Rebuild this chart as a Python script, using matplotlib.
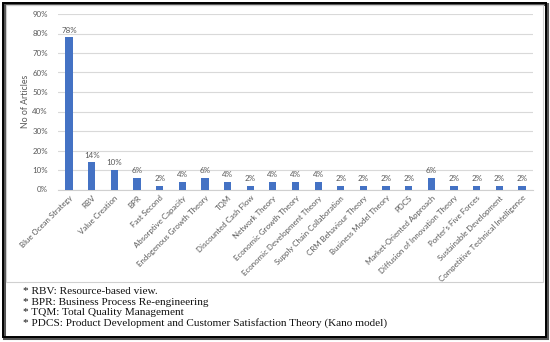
"""Share of articles per theory, bar chart with footnotes."""

import matplotlib

matplotlib.use("Agg")
import matplotlib.pyplot as plt
from matplotlib.patches import Rectangle
from matplotlib.ticker import PercentFormatter

DPI = 100

theories = [
    "Blue Ocean Strategy", "RBV", "Value Creation", "BPR", "Fast Second",
    "Absorptive Capacity", "Endogenous Growth Theory", "TQM",
    "Discounted Cash Flow", "Network Theory", "Economic Growth Theory",
    "Economic Development Theory", "Supply Chain Collaboration",
    "CRM Behaviour Theory", "Business Model Theory", "PDCS",
    "Market-Oriented Approach", "Diffusion of Innovation Theory",
    "Porter's Five Forces", "Sustainable Development",
    "Competitive Technical Intelligence",
]
share = [78, 14, 10, 6, 2, 4, 6, 4, 2, 4, 4, 4, 2, 2, 2, 2, 6, 2, 2, 2, 2]
y_ticks = [0, 10, 20, 30, 40, 50, 60, 70, 80, 90]
notes = [
    "* RBV: Resource-based view.",
    "* BPR: Business Process Re-engineering",
    "* TQM: Total Quality Management",
    "* PDCS: Product Development and Customer Satisfaction Theory (Kano model)",
]

BAR = "#4472C4"
GREY = "#595959"
SANS = ["Lato", "DejaVu Sans"]

W, H = 550, 342
fig = plt.figure(figsize=(W / DPI, H / DPI), dpi=DPI)

# outer frame with a little shadow, inner chart-area frame
fig.add_artist(Rectangle((4 / W, 1 - 338 / H), 543 / W, 334 / H,
                         transform=fig.transFigure, fill=False,
                         edgecolor="#555555", linewidth=2.2))
fig.add_artist(Rectangle((3 / W, 1 - 337 / H), 543 / W, 334 / H,
                         transform=fig.transFigure, fill=False,
                         edgecolor="black", linewidth=1.4))
fig.add_artist(Rectangle((5.5 / W, 1 - 282 / H), 537.5 / W, 277 / H,
                         transform=fig.transFigure, fill=False,
                         edgecolor="#d0d0d0", linewidth=0.8))

ax = fig.add_axes([57.7 / W, 1 - 189.5 / H, 475.6 / W, 175.5 / H])
x = range(len(theories))
ax.bar(x, share, width=0.32, color=BAR, zorder=3)
for xi, v in zip(x, share):
    ax.text(xi, v + 1.8, f"{v}%", ha="center", va="bottom",
            fontsize=5.8, color=GREY, family=SANS)

ax.set_xlim(-0.5, len(theories) - 0.5)
ax.set_ylim(0, 90)
ax.set_yticks(y_ticks)
ax.yaxis.set_major_formatter(PercentFormatter(decimals=0))
ax.grid(axis="y", color="#d9d9d9", linewidth=0.8, zorder=0)
for side in ("top", "right", "left"):
    ax.spines[side].set_visible(False)
ax.spines["bottom"].set_color("#d0d0d0")
ax.tick_params(axis="both", length=0, labelsize=5.7, labelcolor=GREY)
ax.tick_params(axis="y", pad=7)
ax.set_xticks(list(x))
ax.set_xticklabels(theories, rotation=45, ha="right",
                   rotation_mode="anchor", family=SANS)
for lab in ax.get_yticklabels():
    lab.set_family(SANS)
ax.set_ylabel("No of Articles", fontsize=6.3, color=GREY, family=SANS,
              labelpad=2)

for i, line in enumerate(notes):
    fig.text(23 / W, 1 - (292 + 10.3 * i) / H, line, ha="left", va="center",
             fontsize=8.1, family="Liberation Serif", color="#111111")

fig.savefig("out.png", dpi=DPI)
